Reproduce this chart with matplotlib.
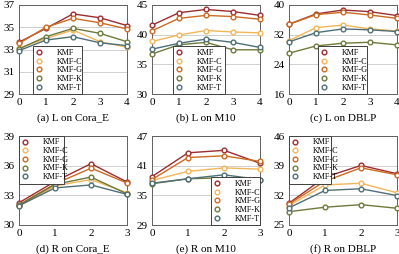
import matplotlib
matplotlib.use('Agg')
import matplotlib.pyplot as plt

plt.rcParams['font.family'] = ['Liberation Serif', 'DejaVu Serif']

methods = ['KMF', 'KMF-C', 'KMF-G', 'KMF-K', 'KMF-T']
colors = ['#9b2d30', '#f2b65a', '#cc6a22', '#6d7a3c', '#4f6f77']

# L-variants (x = 0..4)
x_l = [0, 1, 2, 3, 4]
a_vals = [
    [33.65, 34.9, 36.2, 35.85, 35.15],
    [33.1, 34.0, 34.75, 33.7, 33.2],
    [33.55, 35.0, 35.8, 35.4, 34.85],
    [33.05, 34.15, 34.9, 34.45, 33.7],
    [32.9, 33.85, 34.15, 33.6, 33.35],
]
b_vals = [
    [41.6, 43.7, 44.25, 43.9, 43.25],
    [38.85, 39.95, 40.7, 40.45, 40.3],
    [40.65, 42.75, 43.25, 43.05, 42.6],
    [36.75, 38.3, 38.7, 37.45, 37.45],
    [37.55, 38.55, 39.25, 38.7, 37.85],
]
c_vals = [
    [34.8, 37.6, 38.65, 38.2, 37.15],
    [30.4, 33.9, 34.6, 33.55, 33.0],
    [34.8, 37.4, 38.05, 37.3, 36.4],
    [27.0, 28.95, 29.7, 29.95, 29.25],
    [30.05, 32.55, 33.55, 33.3, 32.85],
]
# R-variants (x = 0..3)
x_r = [0, 1, 2, 3]
d_vals = [
    [32.25, 34.4, 36.2, 34.35],
    [31.95, 33.95, 34.6, 33.25],
    [32.05, 34.15, 35.75, 34.25],
    [32.0, 34.1, 34.85, 33.15],
    [31.95, 33.75, 34.05, 33.1],
]
e_vals = [
    [38.8, 43.6, 44.1, 41.5],
    [38.0, 39.85, 40.55, 40.3],
    [38.2, 42.65, 43.0, 41.85],
    [37.35, 38.35, 38.55, 38.15],
    [37.45, 38.35, 39.15, 38.2],
]
f_vals = [
    [30.15, 36.3, 39.05, 37.1],
    [29.6, 34.45, 34.85, 32.6],
    [29.95, 35.35, 38.5, 36.85],
    [28.15, 29.2, 29.8, 28.95],
    [29.05, 33.15, 33.55, 31.95],
]

panels = [
    ('(a) L on Cora_E', x_l, a_vals, [29, 31, 33, 35, 37]),
    ('(b) L on M10', x_l, b_vals, [30, 35, 40, 45]),
    ('(c) L on DBLP', x_l, c_vals, [16, 24, 32, 40]),
    ('(d) R on Cora_E', x_r, d_vals, [30, 33, 36, 39]),
    ('(e) R on M10', x_r, e_vals, [29, 35, 41, 47]),
    ('(f) R on DBLP', x_r, f_vals, [25, 32, 39, 46]),
]

# legend box per panel: loc, (x0, y0, width, height) in axes fraction
legend_pos = [
    ('lower left', (0.13, 0.0, 0.45, 0.5)),
    ('lower left', (0.195, 0.0, 0.48, 0.5)),
    ('lower left', (0.27, 0.0, 0.45, 0.5)),
    ('upper left', (0.0, 0.5, 0.42, 0.5)),
    ('lower right', (0.55, 0.0, 0.45, 0.5)),
    ('upper left', (0.0, 0.5, 0.39, 0.5)),
]

fig = plt.figure(figsize=(3.99, 2.54), dpi=100)
lefts = [19 / 399, 152 / 399, 289 / 399]
bottoms = [1 - 94 / 254, 1 - 225 / 254]
w, h = 108 / 399, 89 / 254

for i, (title, xs, vals, yticks) in enumerate(panels):
    ax = fig.add_axes([lefts[i % 3], bottoms[i // 3], w, h])
    for name, col, ys in zip(methods, colors, vals):
        ax.plot(xs, ys, color=col, lw=1.0, marker='o', ms=3.4,
                mfc='white', mec=col, mew=1.0, label=name, clip_on=False,
                zorder=3)
    ax.set_xlim(xs[0], xs[-1])
    ax.set_ylim(yticks[0], yticks[-1])
    ax.set_xticks(xs)
    ax.set_yticks(yticks)
    ax.tick_params(length=0, labelsize=8, pad=3)
    ax.grid(axis='y', color='#c8c8c8', lw=0.6)
    ax.set_axisbelow(True)
    for s in ax.spines.values():
        s.set_color('#606060')
        s.set_linewidth(0.7)
    ax.text(0.5, -0.27, title, transform=ax.transAxes, ha='center',
            va='center', fontsize=8)
    loc, box = legend_pos[i]
    leg = ax.legend(loc=loc, bbox_to_anchor=box, mode='expand', fontsize=5.9,
                    frameon=True, fancybox=False, edgecolor='#404040',
                    framealpha=1, handlelength=0.8, handletextpad=1.8,
                    labelspacing=0.08, borderpad=0.3, borderaxespad=0,
                    markerscale=1.0)
    leg.get_frame().set_linewidth(0.7)
    leg.set_zorder(5)
    for ln in leg.get_lines():
        ln.set_linestyle('None')

fig.savefig('out.png', dpi=100)
